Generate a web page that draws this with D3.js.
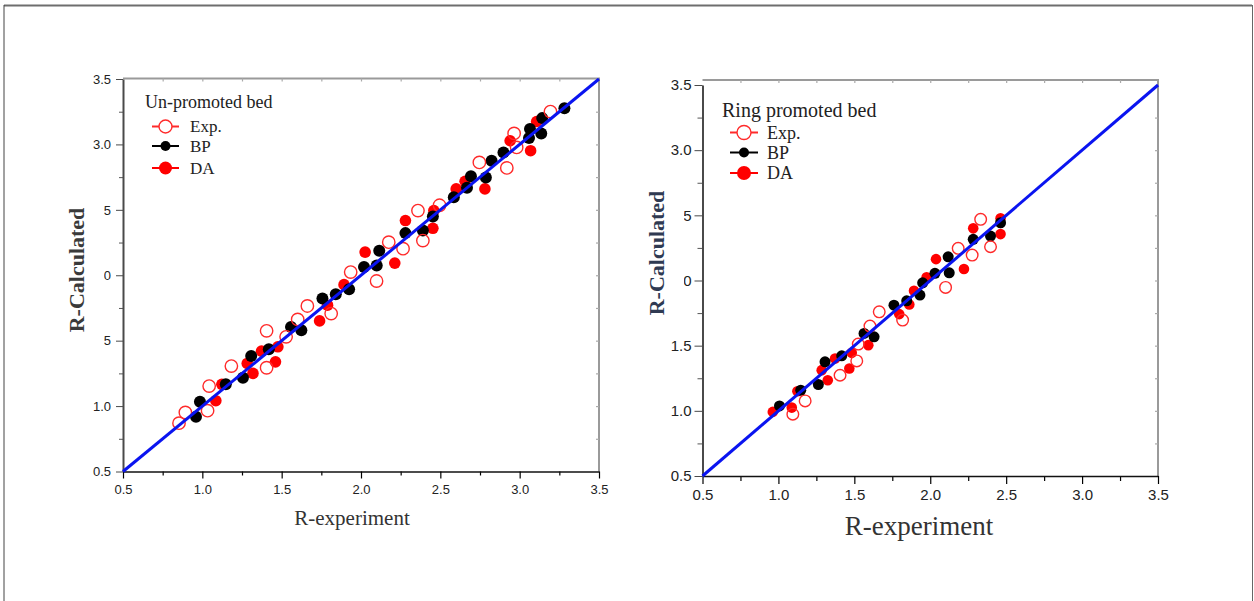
<!DOCTYPE html>
<html>
<head>
<meta charset="utf-8">
<script src="https://cdn.jsdelivr.net/npm/d3@7"></script>
<style>
  body { margin: 0; background: #fff; }
  svg { display: block; }
</style>
</head>
<body>
<svg id="fig" width="1254" height="601"></svg>
<script>
// ---- axis ticks (both panels share the same 0.5–3.5 range) ----
const majorTicks = [0.5, 1.0, 1.5, 2.0, 2.5, 3.0, 3.5];
const minorTicks = [0.75, 1.25, 1.75, 2.25, 2.75, 3.25];
const mirrorTicks = [0.75, 1.0, 1.25, 1.5, 1.75, 2.0, 2.25, 2.5, 2.75, 3.0, 3.25];
const parityLine = [0.5, 3.5];

// ---- Un-promoted bed ----
const unExpX = [0.853, 0.893, 1.033, 1.043, 1.183, 1.405, 1.405, 1.528, 1.601, 1.662, 1.812, 1.935, 2.098, 2.175, 2.265, 2.359, 2.390, 2.495, 2.746, 2.919, 2.965, 2.981, 3.194];
const unExpY = [0.869, 0.951, 0.965, 1.153, 1.306, 1.575, 1.293, 1.529, 1.662, 1.765, 1.707, 2.024, 1.956, 2.253, 2.203, 2.494, 2.265, 2.535, 2.862, 2.820, 3.084, 2.977, 3.251];
const unBpX = [0.960, 0.985, 1.148, 1.256, 1.308, 1.419, 1.559, 1.624, 1.757, 1.841, 1.925, 2.019, 2.099, 2.115, 2.280, 2.390, 2.453, 2.585, 2.668, 2.693, 2.787, 2.823, 2.898, 3.059, 3.065, 3.136, 3.142, 3.282];
const unBpY = [0.919, 1.034, 1.166, 1.217, 1.382, 1.435, 1.605, 1.580, 1.822, 1.854, 1.893, 2.063, 2.075, 2.188, 2.322, 2.342, 2.449, 2.596, 2.668, 2.756, 2.748, 2.876, 2.939, 3.049, 3.117, 3.084, 3.201, 3.277];
const unDaX = [1.085, 1.123, 1.283, 1.319, 1.373, 1.461, 1.476, 1.739, 1.789, 1.893, 2.026, 2.213, 2.280, 2.453, 2.459, 2.600, 2.656, 2.781, 2.940, 3.069, 3.107];
const unDaY = [1.041, 1.166, 1.326, 1.250, 1.420, 1.338, 1.453, 1.651, 1.771, 1.928, 2.177, 2.093, 2.418, 2.359, 2.494, 2.660, 2.718, 2.660, 3.028, 2.952, 3.175];

// ---- Ring promoted bed ----
const ringExpX = [1.095, 1.176, 1.406, 1.516, 1.526, 1.603, 1.664, 1.818, 2.101, 2.184, 2.276, 2.332, 2.397];
const ringExpY = [0.974, 1.076, 1.273, 1.383, 1.512, 1.650, 1.760, 1.696, 1.947, 2.247, 2.195, 2.469, 2.259];
const ringBpX = [1.007, 1.147, 1.263, 1.307, 1.417, 1.564, 1.630, 1.761, 1.845, 1.932, 1.950, 2.031, 2.118, 2.125, 2.283, 2.397, 2.463];
const ringBpY = [1.038, 1.158, 1.202, 1.376, 1.422, 1.594, 1.568, 1.811, 1.844, 1.888, 1.982, 2.055, 2.182, 2.059, 2.316, 2.341, 2.443];
const ringDaX = [0.963, 1.088, 1.125, 1.285, 1.325, 1.373, 1.467, 1.483, 1.592, 1.796, 1.862, 1.893, 1.976, 2.038, 2.222, 2.283, 2.463, 2.463];
const ringDaY = [0.992, 1.025, 1.150, 1.312, 1.235, 1.402, 1.325, 1.445, 1.504, 1.742, 1.816, 1.921, 2.024, 2.164, 2.088, 2.400, 2.477, 2.356];

const seriesNames = ["Exp.", "BP", "DA"];

const SERIF = "'Liberation Serif', 'Times New Roman', serif";
const SANS = "'Liberation Sans', Arial, sans-serif";
const RED = "#ff0000";
const EXP_RED = "#ff2a2a";

const svg = d3.select("#fig");

// outer frame
svg.append("line").attr("x1", 4).attr("x2", 1252).attr("y1", 5.5).attr("y2", 5.5)
  .attr("stroke", "#6e6e6e").attr("stroke-width", 2);
svg.append("line").attr("x1", 4).attr("x2", 4).attr("y1", 5).attr("y2", 601)
  .attr("stroke", "#444").attr("stroke-width", 1);
svg.append("line").attr("x1", 1252.5).attr("x2", 1252.5).attr("y1", 5).attr("y2", 601)
  .attr("stroke", "#666").attr("stroke-width", 1);

function drawPanel(p) {
  const x = d3.scaleLinear().domain([0.5, 3.5]).range([p.left, p.right]);
  const y = d3.scaleLinear().domain([0.5, 3.5]).range([p.bottom, p.top]);
  const g = svg.append("g");

  // grey top / right frame with small inward ticks
  g.append("line").attr("x1", p.left).attr("x2", p.right + 1).attr("y1", p.frameTop).attr("y2", p.frameTop)
    .attr("stroke", "#9a9a9a").attr("stroke-width", 2);
  g.append("line").attr("x1", p.right).attr("x2", p.right).attr("y1", p.frameTop).attr("y2", p.bottom)
    .attr("stroke", "#9a9a9a").attr("stroke-width", 2);
  const topTicks = g.append("g").attr("transform", `translate(0,${p.frameTop})`)
    .call(d3.axisTop(x).tickValues(mirrorTicks).tickSize(-3).tickFormat(""));
  topTicks.select(".domain").remove();
  topTicks.selectAll("line").attr("stroke", "#aaa");
  const rightTicks = g.append("g").attr("transform", `translate(${p.right},0)`)
    .call(d3.axisRight(y).tickValues(mirrorTicks).tickSize(-3).tickFormat(""));
  rightTicks.select(".domain").remove();
  rightTicks.selectAll("line").attr("stroke", "#aaa");

  // bottom axis
  const xMinor = g.append("g").attr("transform", `translate(0,${p.bottom})`)
    .call(d3.axisBottom(x).tickValues(minorTicks).tickSize(p.minorLen).tickFormat(""));
  xMinor.select(".domain").remove();
  const xAxis = g.append("g").attr("transform", `translate(0,${p.bottom})`)
    .call(d3.axisBottom(x).tickValues(majorTicks).tickSize(p.majorLen).tickSizeOuter(0)
      .tickPadding(p.xPad).tickFormat(d3.format(".1f")));
  xAxis.select(".domain").attr("stroke", "#111").attr("stroke-width", 1.6);
  xAxis.selectAll("text").attr("font-family", SANS).attr("font-size", p.tickFont).attr("fill", "#222");
  g.selectAll(".tick line").attr("stroke-width", 1.2);

  // left axis
  const yMinor = g.append("g").attr("transform", `translate(${p.left},0)`)
    .call(d3.axisLeft(y).tickValues(minorTicks).tickSize(p.minorLen).tickFormat(""));
  yMinor.select(".domain").remove();
  yMinor.selectAll("line").attr("stroke", "#555");
  const yAxis = g.append("g").attr("transform", `translate(${p.left},0)`)
    .call(d3.axisLeft(y).tickValues(majorTicks).tickSize(p.majorLen).tickSizeOuter(0)
      .tickPadding(p.yPad).tickFormat(d3.format(".1f")));
  yAxis.select(".domain").attr("stroke", "#4a4a4a").attr("stroke-width", 2);
  yAxis.selectAll("line").attr("stroke", "#4a4a4a");
  yAxis.selectAll("text").attr("font-family", SANS).attr("font-size", p.tickFont).attr("fill", "#222");

  // y title on its own white patch
  g.append("rect").attr("x", p.yBox[0]).attr("y", p.yBox[1]).attr("width", p.yBox[2]).attr("height", p.yBox[3])
    .attr("fill", "#fff");
  g.append("text").attr("transform", `translate(${p.yTitle[0]},${p.yTitle[1]}) rotate(-90)`)
    .attr("text-anchor", "middle").attr("dominant-baseline", "central")
    .attr("font-family", SERIF).attr("font-size", p.yTitleFont).attr("font-weight", 600)
    .attr("fill", p.yTitleColor).text("R-Calculated");

  // x title
  g.append("text").attr("x", p.xTitle[0]).attr("y", p.xTitle[1]).attr("text-anchor", "middle")
    .attr("font-family", SERIF).attr("font-size", p.xTitleFont).attr("fill", "#333").text("R-experiment");

  // points: DA, then BP, then open Exp. circles
  const plot = g.append("g");
  plot.selectAll("circle.da").data(d3.zip(p.daX, p.daY)).join("circle").attr("class", "da")
    .attr("cx", d => x(d[0])).attr("cy", d => y(d[1])).attr("r", p.daR).attr("fill", RED);
  plot.selectAll("circle.bp").data(d3.zip(p.bpX, p.bpY)).join("circle").attr("class", "bp")
    .attr("cx", d => x(d[0])).attr("cy", d => y(d[1])).attr("r", p.bpR).attr("fill", "#000");
  plot.selectAll("circle.exp").data(d3.zip(p.expX, p.expY)).join("circle").attr("class", "exp")
    .attr("cx", d => x(d[0])).attr("cy", d => y(d[1])).attr("r", p.expR)
    .attr("fill", "none").attr("stroke", EXP_RED).attr("stroke-width", 1.4);

  // 1:1 line
  plot.append("line").attr("x1", x(parityLine[0])).attr("y1", y(parityLine[0]))
    .attr("x2", x(parityLine[1])).attr("y2", y(parityLine[1]))
    .attr("stroke", "#0a14f0").attr("stroke-width", 3);

  // legend
  const L = p.legend;
  g.append("text").attr("x", L.titleX).attr("y", L.titleY).attr("font-family", SERIF)
    .attr("font-size", L.titleFont).attr("fill", "#222").text(p.title);
  seriesNames.forEach((name, i) => {
    const cy = L.rows[i];
    const col = i === 1 ? "#000" : RED;
    g.append("line").attr("x1", L.lineX[0]).attr("x2", L.lineX[1]).attr("y1", cy).attr("y2", cy)
      .attr("stroke", i === 0 ? EXP_RED : col).attr("stroke-width", 2);
    const cx = (L.lineX[0] + L.lineX[1]) / 2;
    if (i === 0) {
      g.append("circle").attr("cx", cx).attr("cy", cy).attr("r", L.expR)
        .attr("fill", "#fff").attr("stroke", EXP_RED).attr("stroke-width", 1.4);
    } else {
      g.append("circle").attr("cx", cx).attr("cy", cy).attr("r", i === 1 ? L.bpR : L.daR).attr("fill", col);
    }
    g.append("text").attr("x", L.textX).attr("y", cy + L.baseShift).attr("font-family", SERIF)
      .attr("font-size", L.font).attr("fill", "#222").text(name);
  });
}

drawPanel({
  title: "Un-promoted bed",
  left: 123, right: 599, top: 79, bottom: 471.5, frameTop: 78.5,
  majorLen: 7, minorLen: 4, xPad: 6, yPad: 5, tickFont: 13,
  yBox: [50, 193, 54, 159], yTitle: [76, 270], yTitleFont: 22, yTitleColor: "#3a3a3a",
  xTitle: [352, 525], xTitleFont: 21,
  expX: unExpX, expY: unExpY, bpX: unBpX, bpY: unBpY, daX: unDaX, daY: unDaY,
  expR: 6.2, bpR: 6, daR: 5.8,
  legend: { titleX: 145, titleY: 108, titleFont: 18, rows: [126.5, 146, 168], lineX: [152, 179],
            textX: 190, baseShift: 5.5, font: 17, expR: 6.5, bpR: 5, daR: 6.5 }
});

drawPanel({
  title: "Ring promoted bed",
  left: 702.5, right: 1158, top: 85, bottom: 476, frameTop: 80,
  majorLen: 8, minorLen: 5, xPad: 5, yPad: 3, tickFont: 15,
  yBox: [629, 180, 55, 153], yTitle: [656, 253], yTitleFont: 22, yTitleColor: "#2f3a52",
  xTitle: [919, 535], xTitleFont: 27,
  expX: ringExpX, expY: ringExpY, bpX: ringBpX, bpY: ringBpY, daX: ringDaX, daY: ringDaY,
  expR: 5.8, bpR: 5.5, daR: 5.3,
  legend: { titleX: 722, titleY: 117, titleFont: 20, rows: [132.5, 152.5, 173], lineX: [730, 758],
            textX: 767, baseShift: 6, font: 18, expR: 7, bpR: 5, daR: 7 }
});
</script>
</body>
</html>
